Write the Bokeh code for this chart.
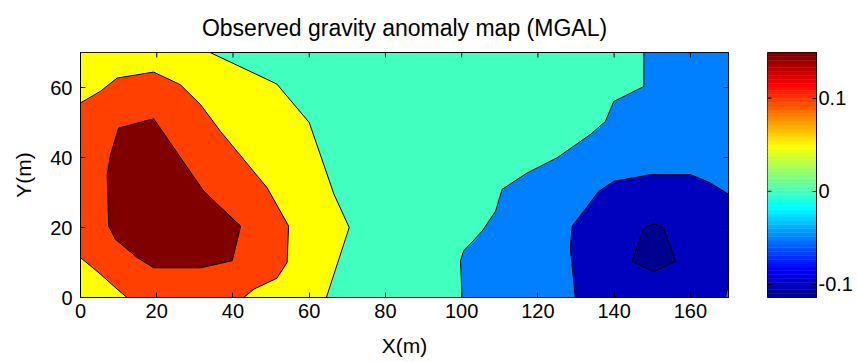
import numpy as np
from bokeh.plotting import figure
from bokeh.models import Range1d, LinearAxis, FixedTicker, Title
from bokeh.layouts import row
from bokeh.embed import file_html
from bokeh.resources import INLINE

# ---------------- data ----------------
title_text = "Observed gravity anomaly map (MGAL)"
x_label = "X(m)"
y_label = "Y(m)"
x_extent = [0, 170]
y_extent = [0, 70]
x_ticks = [0, 20, 40, 60, 80, 100, 120, 140, 160]
y_ticks = [0, 20, 40, 60]

# contour band boundaries (data units)
yellow_x = [0, 34, 51.5, 60, 66.5, 70.5, 64.5, 0]
yellow_y = [70, 70, 61, 50, 29.5, 20, 0, 0]

orange_x = [0, 5.2, 9.6, 19.2, 26.2, 31.5, 36.7, 49, 54.6, 54.2, 51.5, 45.5, 42.8, 12.2, 9.6, 5.2, 0]
orange_y = [55.6, 58.9, 62.7, 64.4, 60.8, 55.1, 47.5, 31.3, 20.4, 10, 5.5, 2.4, 0, 0, 2.4, 6.7, 11.4]

darkred_x = [10, 19.2, 24.5, 32.3, 42, 39.8, 31.5, 19.2, 14.9, 9.2, 7.4, 7, 7.9]
darkred_y = [48.4, 51.1, 42.7, 30.4, 20.4, 10.5, 8.5, 8.5, 11.4, 16.6, 20.4, 35.2, 40.9]

azure_x = [147.8, 147.8, 139.9, 137.7, 133.8, 125, 117.2, 110.6, 108.9, 105.4, 100.5, 99.7, 100.1, 170, 170]
azure_y = [70, 60.3, 56, 50.3, 46.6, 39.9, 35.6, 30.9, 24.7, 19, 13.3, 10.5, 0, 0, 70]

blue_x = [129, 136, 139.9, 149.5, 160, 165.2, 170, 170, 169.2, 129.8, 128.5]
blue_y = [20.4, 30.4, 33.2, 35.1, 35.1, 32.8, 29.5, 3.8, 0, 0, 14.2]

navy_x = [147.8, 150.4, 153, 156.1, 150.4, 144.7]
navy_y = [19.9, 21.1, 19.9, 10.3, 7.4, 10.3]

band_colors = {
    "base": "#40FFBF",
    "yellow": "#FFFF00",
    "orange": "#FF4000",
    "darkred": "#800000",
    "azure": "#0080FF",
    "blue": "#0000BF",
    "navy": "#00008F",
}

cbar_low = -0.114
cbar_high = 0.149
cbar_ticks = [-0.1, 0, 0.1]
cbar_tick_labels = ["-0.1", "0", "0.1"]

# ---------------- jet colormap (style) ----------------
def jet(m):
    n = int(np.ceil(m / 4))
    u = np.concatenate([np.arange(1, n + 1) / n, np.ones(n - 1), np.arange(n, 0, -1) / n])
    g = int(np.ceil(n / 2)) - (1 if m % 4 == 1 else 0) + np.arange(1, len(u) + 1)
    r = g + n
    b = g - n
    J = np.zeros((m, 3))
    for idx, col in ((r, 0), (g, 1), (b, 2)):
        mask = (idx >= 1) & (idx <= m)
        J[idx[mask] - 1, col] = u[mask]
    return ["#%02x%02x%02x" % tuple(int(round(v * 255)) for v in row_) for row_ in J]

jet64 = jet(64)

FONT = "Liberation Sans"
TICK_LEN = 5

# ---------------- main map ----------------
p = figure(width=740, height=360,
           x_range=Range1d(*x_extent), y_range=Range1d(*y_extent),
           output_backend="svg", toolbar_location=None, title=None,
           min_border_left=80, min_border_right=12,
           min_border_top=52, min_border_bottom=63)
p.background_fill_color = band_colors["base"]
p.border_fill_color = "white"
p.outline_line_color = "black"
p.outline_line_width = 1
p.grid.visible = False

p.patches(xs=[yellow_x, orange_x, darkred_x, azure_x, blue_x, navy_x],
          ys=[yellow_y, orange_y, darkred_y, azure_y, blue_y, navy_y],
          fill_color=[band_colors[k] for k in ["yellow", "orange", "darkred", "azure", "blue", "navy"]],
          line_color="black", line_width=1)

def style_axis(ax, ticks):
    ax.ticker = FixedTicker(ticks=ticks)
    ax.major_tick_in = TICK_LEN
    ax.major_tick_out = 0
    ax.minor_tick_line_color = None
    ax.axis_line_color = "black"
    ax.major_tick_line_color = "black"
    ax.major_label_text_font = FONT
    ax.major_label_text_color = "black"
    ax.major_label_text_font_size = "20px"
    ax.major_label_standoff = 5
    ax.axis_label_text_font = FONT
    ax.axis_label_text_font_size = "21px"
    ax.axis_label_text_font_style = "normal"
    ax.axis_label_text_color = "black"

style_axis(p.xaxis[0], x_ticks)
p.xaxis[0].axis_label = x_label
p.xaxis[0].axis_label_standoff = 13
p.xaxis[0].major_label_standoff = 6
style_axis(p.yaxis[0], y_ticks)
p.yaxis[0].axis_label = y_label
p.yaxis[0].axis_label_standoff = 12
p.yaxis[0].major_label_standoff = 8

# tick marks on the top and right edges of the box
p.ray(x=x_ticks, y=[y_extent[1]] * len(x_ticks), length=TICK_LEN, length_units="screen",
      angle=-np.pi / 2, line_color="black", line_width=1)
p.ray(x=[x_extent[1]] * len(y_ticks), y=y_ticks, length=TICK_LEN, length_units="screen",
      angle=np.pi, line_color="black", line_width=1)

p.add_layout(Title(text=title_text, align="center", text_font=FONT,
                   text_font_size="23px", text_font_style="normal",
                   text_color="black", standoff=23), "above")

# ---------------- colour bar ----------------
cb = figure(width=115, height=360,
            x_range=Range1d(0, 1), y_range=Range1d(cbar_low, cbar_high),
            output_backend="svg", toolbar_location=None,
            x_axis_location=None, y_axis_location="right",
            min_border_left=27, min_border_right=39,
            min_border_top=51, min_border_bottom=60)
cb.grid.visible = False
cb.outline_line_color = "black"
cb.border_fill_color = "white"
edges = np.linspace(cbar_low, cbar_high, len(jet64) + 1)
cb.quad(left=0, right=1, bottom=edges[:-1], top=edges[1:],
        fill_color=jet64, line_color=jet64, line_width=0.5)

cax = cb.yaxis[0]
style_axis(cax, cbar_ticks)
cax.major_label_standoff = 2
cax.major_tick_in = 4
cax.major_label_overrides = dict(zip(cbar_ticks, cbar_tick_labels))

cb.ray(x=[0] * len(cbar_ticks), y=cbar_ticks, length=4, length_units="screen",
       angle=0, line_color="black", line_width=1)

layout = row(p, cb)
open("out.html", "w").write(file_html(layout, INLINE))
